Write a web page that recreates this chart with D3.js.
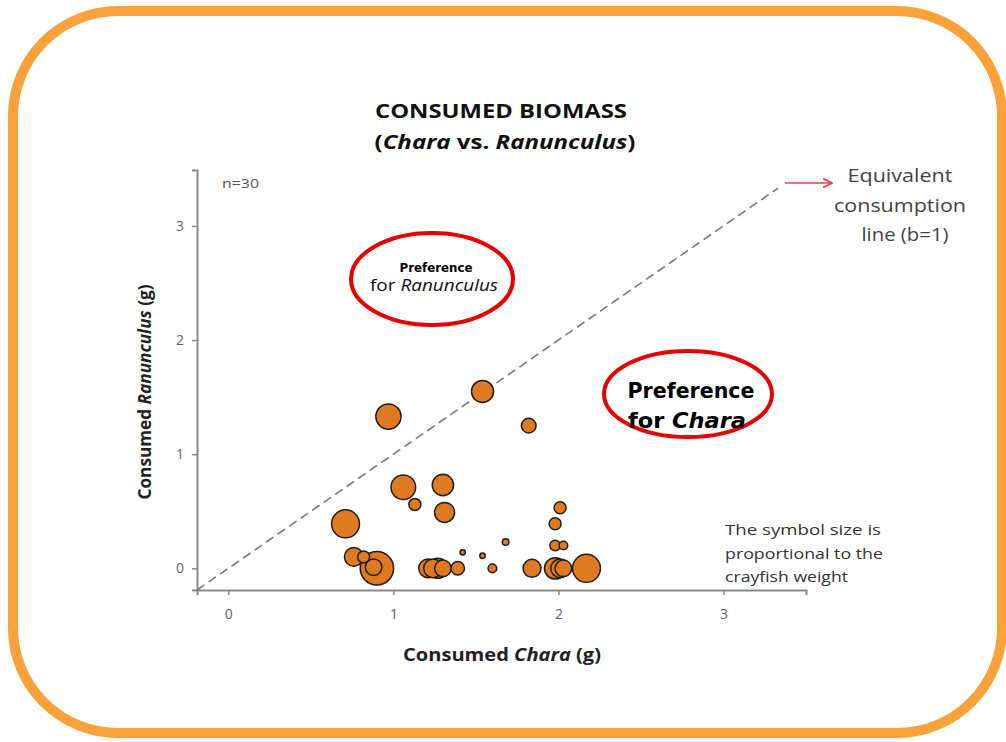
<!DOCTYPE html>
<html><head><meta charset="utf-8">
<script src="https://cdn.jsdelivr.net/npm/d3@7"></script>
<style>
html,body{margin:0;padding:0;background:#fff;}
svg{display:block;font-family:"Open Sans",Lato,sans-serif;}
</style></head>
<body>
<svg id="chart" width="1006" height="742"></svg>
<script>
// ---- data ----
const charaConsumed = [1.54,0.97,1.82,1.06,1.30,1.13,1.31,0.71,2.01,1.98,1.98,2.03,1.68,1.42,1.54,0.76,0.82,0.90,0.88,1.21,1.24,1.27,1.30,1.39,1.60,1.84,1.98,2.03,2.17,2.01];
const ranunculusConsumed = [1.55,1.33,1.25,0.71,0.73,0.56,0.49,0.39,0.53,0.39,0.20,0.20,0.23,0.14,0.11,0.10,0.10,0.00,0.01,0.00,0.00,0.00,0.00,0.00,0.00,0.00,0.00,0.00,0.00,0.00];
const crayfishWeight = [16.7,22,7.4,21,15.8,5,13.8,27,5,5,3.9,2.6,1.5,1.0,1.0,12,5,38.6,9.5,12,12,13.8,9.5,6.2,2.6,11.2,15.8,9.5,27,12];
const xTickValues = [0,1,2,3];
const yTickValues = [0,1,2,3];
const equivalenceLine = [[-0.19,-0.19],[3.33,3.33]];

const svg = d3.select("#chart");
const fit = (sel,len) => sel.attr("textLength",len).attr("lengthAdjust","spacingAndGlyphs");

// frame
svg.append("rect").attr("x",13).attr("y",11).attr("width",989).attr("height",722)
  .attr("rx",105).attr("ry",105).attr("fill","#fff")
  .attr("stroke","#F9A23B").attr("stroke-width",10);

const x = d3.scaleLinear().domain([-0.19,3.5]).range([197,806]);
const y = d3.scaleLinear().domain([-0.19,3.49]).range([590,170]);
const r = d3.scaleSqrt().domain([0,40]).range([0,17]);

// axes
const xAxis = svg.append("g").attr("transform","translate(0,590)")
  .call(d3.axisBottom(x).tickValues(xTickValues).tickFormat(d3.format("d")).tickSizeOuter(0).tickSize(5).tickPadding(14));
const yAxis = svg.append("g").attr("transform","translate(197,0)")
  .call(d3.axisLeft(y).tickValues(yTickValues).tickFormat(d3.format("d")).tickSizeOuter(0).tickSize(5).tickPadding(8));
[xAxis,yAxis].forEach(a=>{
  a.select(".domain").attr("stroke","#8a8a8a").attr("stroke-width",2);
  a.selectAll(".tick line").attr("stroke","#8a8a8a").attr("stroke-width",1.5);
  a.selectAll(".tick text").attr("fill","#666").attr("font-size",14).attr("font-family","'Open Sans', sans-serif");
});

// equivalence line
svg.append("path").datum(equivalenceLine)
  .attr("d", d3.line().x(d=>x(d[0])).y(d=>y(d[1])))
  .attr("fill","none").attr("stroke","#7a7a7a").attr("stroke-width",1.6).attr("stroke-dasharray","9,5");

// points
const pts = charaConsumed.map((c,i)=>({x:c,y:ranunculusConsumed[i],w:crayfishWeight[i]}))
  .sort((a,b)=>b.w-a.w);
svg.append("g").selectAll("circle").data(pts).join("circle")
  .attr("cx",d=>x(d.x)).attr("cy",d=>y(d.y)).attr("r",d=>r(d.w))
  .attr("fill","#E07A22").attr("stroke","#1e1e1e").attr("stroke-width",1.5);

// titles
fit(svg.append("text").attr("x",501).attr("y",118).attr("text-anchor","middle")
  .attr("font-weight","bold").attr("font-size",19).attr("fill","#111").text("CONSUMED BIOMASS"),252);
const t2 = svg.append("text").attr("x",505).attr("y",149).attr("text-anchor","middle")
  .attr("font-weight","bold").attr("font-size",19).attr("fill","#111");
t2.append("tspan").text("(");
t2.append("tspan").attr("font-style","italic").text("Chara");
t2.append("tspan").text(" vs. ");
t2.append("tspan").attr("font-style","italic").text("Ranunculus");
t2.append("tspan").text(")");
fit(t2,261);

fit(svg.append("text").attr("x",222).attr("y",188).attr("font-size",12.5).attr("fill","#555").text("n=30"),37);

// axis titles
const xt = svg.append("text").attr("x",502).attr("y",661).attr("text-anchor","middle")
  .attr("font-weight","bold").attr("font-size",17).attr("fill","#222");
xt.append("tspan").text("Consumed ");
xt.append("tspan").attr("font-style","italic").text("Chara");
xt.append("tspan").text(" (g)");
fit(xt,198);

const yt = svg.append("text").attr("transform","translate(151,392) rotate(-90)").attr("text-anchor","middle")
  .attr("font-weight","bold").attr("font-size",17).attr("fill","#222");
yt.append("tspan").text("Consumed ");
yt.append("tspan").attr("font-style","italic").text("Ranunculus");
yt.append("tspan").text(" (g)");
fit(yt,215);

// ellipses
svg.append("ellipse").attr("cx",432).attr("cy",279).attr("rx",81).attr("ry",46)
  .attr("fill","none").attr("stroke","#E80000").attr("stroke-width",4);
fit(svg.append("text").attr("x",436).attr("y",272).attr("text-anchor","middle")
  .attr("font-weight","bold").attr("font-size",12).attr("fill","#000").attr("font-family","'DejaVu Sans Condensed', sans-serif").text("Preference"),73);
const e1 = svg.append("text").attr("x",434).attr("y",291).attr("text-anchor","middle")
  .attr("font-size",16).attr("fill","#111");
e1.append("tspan").text("for ");
e1.append("tspan").attr("font-style","italic").text("Ranunculus");
fit(e1,128);

svg.append("ellipse").attr("cx",688).attr("cy",394).attr("rx",84).attr("ry",43)
  .attr("fill","none").attr("stroke","#E80000").attr("stroke-width",4);
fit(svg.append("text").attr("x",691).attr("y",398).attr("text-anchor","middle")
  .attr("font-weight","bold").attr("font-size",22).attr("fill","#000").attr("font-family","'DejaVu Sans Condensed', sans-serif").text("Preference"),127);
const e2 = svg.append("text").attr("x",687).attr("y",428).attr("text-anchor","middle")
  .attr("font-weight","bold").attr("font-size",21).attr("fill","#000").attr("font-family","'DejaVu Sans Condensed', sans-serif");
e2.append("tspan").text("for ");
e2.append("tspan").attr("font-style","italic").text("Chara");
fit(e2,118);

// arrow annotation
svg.append("defs").append("marker").attr("id","ah").attr("viewBox","0 0 10 10")
  .attr("refX",9).attr("refY",5).attr("markerWidth",8).attr("markerHeight",8).attr("orient","auto")
  .append("path").attr("d","M1,1 L9,5 L1,9").attr("fill","none").attr("stroke","#f04040").attr("stroke-width",1.5);
svg.append("line").attr("x1",785).attr("y1",183).attr("x2",832).attr("y2",183)
  .attr("stroke","#f04040").attr("stroke-width",1.4).attr("marker-end","url(#ah)");

const eqLines = ["Equivalent","consumption","line (b=1)"];
const eqWidths = [105,132,87];
svg.append("g").selectAll("text").data(eqLines).join("text")
  .attr("x",(d,i)=>[900,900,905][i]).attr("y",(d,i)=>182+i*29.5).attr("text-anchor","middle")
  .attr("font-size",19).attr("fill","#444")
  .attr("textLength",(d,i)=>eqWidths[i]).attr("lengthAdjust","spacingAndGlyphs").text(d=>d);

const noteLines = ["The symbol size is","proportional to the","crayfish weight"];
const noteWidths = [156,158,123];
svg.append("g").selectAll("text").data(noteLines).join("text")
  .attr("x",725).attr("y",(d,i)=>535+i*23.5)
  .attr("font-size",15).attr("fill","#333")
  .attr("textLength",(d,i)=>noteWidths[i]).attr("lengthAdjust","spacingAndGlyphs").text(d=>d);
</script>
</body></html>
